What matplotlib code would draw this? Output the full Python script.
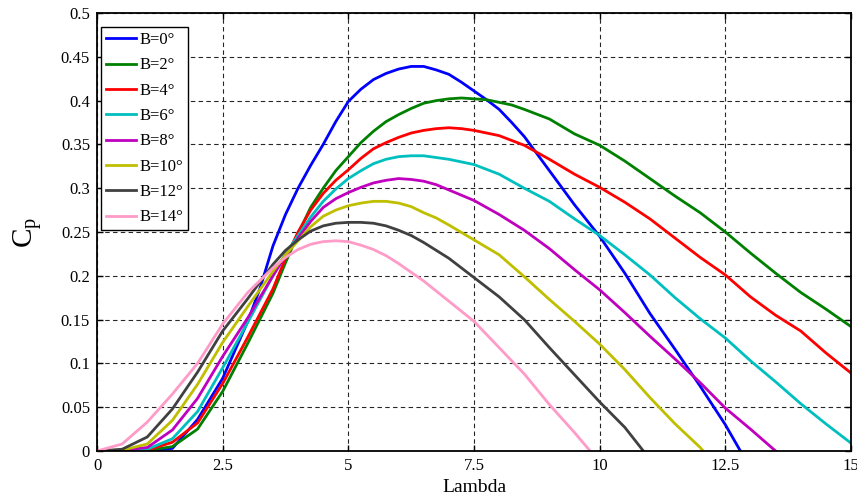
import numpy as np
import matplotlib
matplotlib.use("Agg")
import matplotlib.pyplot as plt

plt.rcParams['font.family'] = ['Liberation Serif', 'DejaVu Serif']
plt.rcParams['mathtext.fontset'] = 'custom'
plt.rcParams['mathtext.rm'] = 'Liberation Serif'
plt.rcParams['mathtext.it'] = 'Liberation Serif:italic'

labels = ["B=0°", "B=2°", "B=4°", "B=6°", "B=8°", "B=10°", "B=12°", "B=14°"]
colors = ["#0000FF", "#008000", "#FF0000", "#00BFBF", "#BF00BF", "#BFBF00", "#404040", "#FF9BC8"]

lam_b0 = [0, 0.5, 1, 1.5, 2, 2.5, 3, 3.25, 3.5, 3.75, 4, 4.25, 4.5, 4.75, 5, 5.25, 5.5, 5.75,
          6, 6.25, 6.5, 6.75, 7, 7.25, 7.5, 7.75, 8, 8.25, 8.5, 9, 9.5, 10, 10.5, 11, 11.5,
          12, 12.5, 12.8]
cp_b0 = [0, 0, 0, 0.003, 0.036, 0.083, 0.148, 0.187, 0.234, 0.270, 0.300, 0.326, 0.350,
         0.376, 0.399, 0.413, 0.424, 0.431, 0.436, 0.439, 0.439, 0.435, 0.430, 0.421, 0.411,
         0.401, 0.390, 0.375, 0.359, 0.320, 0.281, 0.245, 0.203, 0.157, 0.116, 0.074, 0.030, 0]

lam_b2 = [0, 0.5, 1, 1.5, 2, 2.5, 3, 3.5, 3.75, 4, 4.25, 4.5, 4.75, 5, 5.25, 5.5, 5.75, 6,
          6.25, 6.5, 6.75, 7, 7.25, 7.5, 7.75, 8, 8.25, 8.5, 9, 9.5, 10, 10.5, 11, 11.5, 12,
          12.5, 13, 13.5, 14, 14.5, 15]
cp_b2 = [0, 0, 0.0005, 0.005, 0.025, 0.068, 0.123, 0.180, 0.215, 0.248, 0.278, 0.300, 0.320,
         0.336, 0.352, 0.365, 0.376, 0.384, 0.391, 0.397, 0.400, 0.402, 0.403, 0.402, 0.401,
         0.398, 0.395, 0.390, 0.379, 0.362, 0.349, 0.331, 0.311, 0.291, 0.272, 0.250, 0.226,
         0.203, 0.181, 0.162, 0.142]

lam_b4 = [0, 0.5, 1, 1.5, 2, 2.5, 3, 3.5, 3.75, 4, 4.25, 4.5, 4.75, 5, 5.25, 5.5, 5.75, 6,
          6.25, 6.5, 6.75, 7, 7.25, 7.5, 7.75, 8, 8.5, 9, 9.5, 10, 10.5, 11, 11.5, 12, 12.5,
          13, 13.5, 14, 14.5, 15]
cp_b4 = [0, 0, 0.001, 0.010, 0.032, 0.077, 0.130, 0.185, 0.220, 0.250, 0.275, 0.294, 0.309,
         0.321, 0.334, 0.345, 0.352, 0.358, 0.363, 0.366, 0.368, 0.369, 0.368, 0.366, 0.363,
         0.360, 0.349, 0.333, 0.316, 0.301, 0.284, 0.265, 0.243, 0.221, 0.201, 0.176, 0.155,
         0.137, 0.112, 0.089]

lam_b6 = [0, 0.5, 1, 1.5, 2, 2.5, 3, 3.5, 3.75, 4, 4.25, 4.5, 4.75, 5, 5.25, 5.5, 5.75, 6,
          6.25, 6.5, 6.75, 7, 7.25, 7.5, 8, 8.5, 9, 9.5, 10, 10.5, 11, 11.5, 12, 12.5, 13,
          13.5, 14, 14.5, 15]
cp_b6 = [0, 0.0005, 0.002, 0.014, 0.045, 0.095, 0.147, 0.200, 0.225, 0.246, 0.267, 0.285,
         0.299, 0.311, 0.320, 0.328, 0.333, 0.336, 0.337, 0.337, 0.335, 0.333, 0.330, 0.327,
         0.316, 0.300, 0.285, 0.265, 0.246, 0.224, 0.201, 0.175, 0.151, 0.129, 0.103, 0.079,
         0.054, 0.031, 0.009]

lam_b8 = [0, 0.5, 1, 1.5, 2, 2.5, 3, 3.5, 3.75, 4, 4.25, 4.5, 4.75, 5, 5.25, 5.5, 5.75, 6,
          6.25, 6.5, 6.75, 7, 7.25, 7.5, 8, 8.5, 9, 9.5, 10, 10.5, 11, 11.5, 12, 12.5, 13, 13.5]
cp_b8 = [0, 0.001, 0.004, 0.024, 0.060, 0.108, 0.152, 0.200, 0.223, 0.243, 0.262, 0.278,
         0.288, 0.295, 0.301, 0.306, 0.309, 0.311, 0.310, 0.308, 0.304, 0.298, 0.292, 0.286,
         0.270, 0.252, 0.231, 0.207, 0.184, 0.158, 0.131, 0.105, 0.078, 0.049, 0.025, 0]

lam_b10 = [0, 0.5, 1, 1.5, 2, 2.5, 3, 3.5, 3.75, 4, 4.25, 4.5, 4.75, 5, 5.25, 5.5, 5.75, 6,
           6.25, 6.5, 6.75, 7, 7.5, 8, 8.5, 9, 9.5, 10, 10.5, 11, 11.5, 12, 12.06]
cp_b10 = [0, 0.001, 0.008, 0.035, 0.076, 0.124, 0.165, 0.205, 0.224, 0.240, 0.256, 0.268,
          0.275, 0.280, 0.283, 0.285, 0.285, 0.283, 0.279, 0.272, 0.266, 0.258, 0.241, 0.224,
          0.199, 0.173, 0.148, 0.122, 0.093, 0.061, 0.031, 0.004, 0]

lam_b12 = [0, 0.5, 1, 1.5, 2, 2.5, 3, 3.5, 3.75, 4, 4.25, 4.5, 4.75, 5, 5.25, 5.5, 5.75, 6,
           6.25, 6.5, 7, 7.5, 8, 8.5, 9, 9.5, 10, 10.5, 10.87]
cp_b12 = [0, 0.002, 0.016, 0.048, 0.090, 0.137, 0.174, 0.213, 0.229, 0.241, 0.251, 0.257,
          0.260, 0.261, 0.261, 0.260, 0.257, 0.252, 0.246, 0.238, 0.220, 0.198, 0.176, 0.150,
          0.118, 0.087, 0.056, 0.027, 0]

lam_b14 = [0, 0.5, 1, 1.5, 2, 2.5, 3, 3.5, 3.75, 4, 4.25, 4.5, 4.75, 5, 5.25, 5.5, 5.75, 6,
           6.5, 7, 7.5, 8, 8.5, 9, 9.5, 9.81]
cp_b14 = [0, 0.008, 0.033, 0.065, 0.100, 0.145, 0.181, 0.209, 0.221, 0.230, 0.236, 0.239,
          0.240, 0.239, 0.235, 0.230, 0.223, 0.214, 0.194, 0.171, 0.148, 0.118, 0.088, 0.053,
          0.021, 0]

series = [(lam_b0, cp_b0), (lam_b2, cp_b2), (lam_b4, cp_b4), (lam_b6, cp_b6),
          (lam_b8, cp_b8), (lam_b10, cp_b10), (lam_b12, cp_b12), (lam_b14, cp_b14)]

xticks = [0, 2.5, 5, 7.5, 10, 12.5, 15]
xticklabels = ["0", "2.5", "5", "7.5", "10", "12.5", "15"]
yticks = [0, 0.05, 0.1, 0.15, 0.2, 0.25, 0.3, 0.35, 0.4, 0.45, 0.5]
yticklabels = ["0", "0.05", "0.1", "0.15", "0.2", "0.25", "0.3", "0.35", "0.4", "0.45", "0.5"]

fig = plt.figure(figsize=(8.57, 5.0), dpi=100)
ax = fig.add_axes([97 / 857, 1 - 451 / 500, (851 - 97) / 857, (451 - 13) / 500])

for (lx, cy), lab, col in zip(series, labels, colors):
    ax.plot(lx, cy, color=col, lw=2.0, label=lab, solid_joinstyle='round')

ax.set_xlim(0, 15)
ax.set_ylim(0, 0.5)
ax.set_xticks(xticks)
ax.set_xticklabels(xticklabels)
ax.set_yticks(yticks)
ax.set_yticklabels(yticklabels)
ax.tick_params(direction='in', length=4, width=1, top=True, right=True,
               labelsize=12, pad=5)
for s in ax.spines.values():
    s.set_linewidth(1.3)
ax.grid(True, color='0.15', linestyle=(0, (4, 3)), linewidth=0.8)
ax.set_axisbelow(True)

ax.set_xlabel("Lambda", fontsize=14, labelpad=4)
ax.set_ylabel(r"$\mathrm{C_p}$", fontsize=21, labelpad=12)

leg = ax.legend(loc='upper left', bbox_to_anchor=(0.005, 0.968), fontsize=12,
                frameon=True, fancybox=False, framealpha=1, edgecolor='black',
                handlelength=1.8, handletextpad=0.2, labelspacing=0.56,
                borderpad=0.3, borderaxespad=0)
leg.get_frame().set_linewidth(1.0)

fig.savefig("out.png", dpi=100)
